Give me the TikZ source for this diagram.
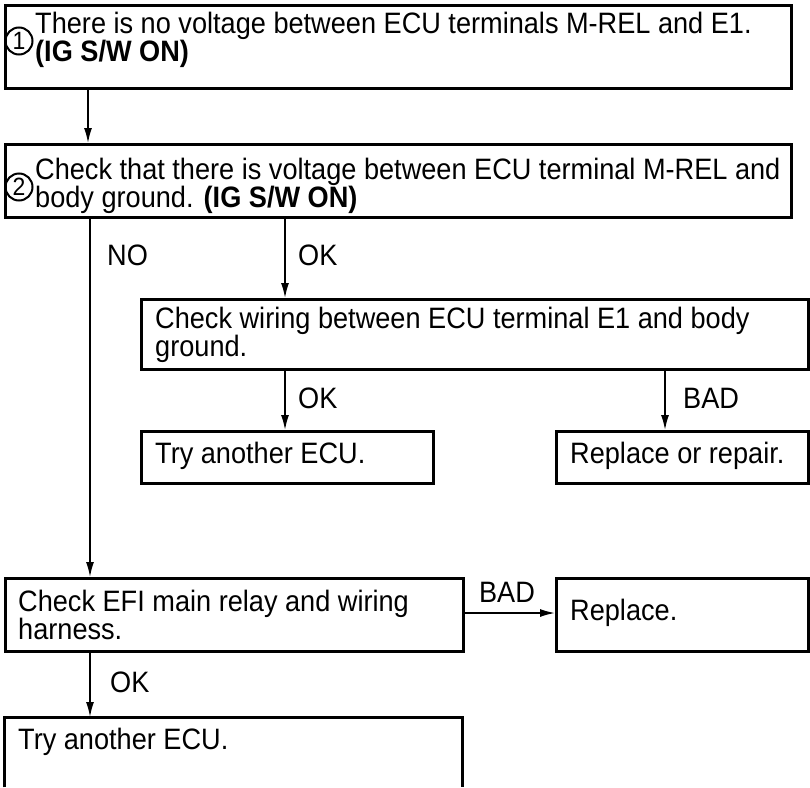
\documentclass[tikz,border=0pt]{standalone}
\usepackage{fontspec}
\setmainfont{Liberation Sans}[FakeStretch=0.92]
\usetikzlibrary{arrows.meta}
\begin{document}
\begin{tikzpicture}[x=1pt,y=-1pt,
  box/.style={draw, line width=3pt, inner sep=0pt, anchor=north west},
  txt/.style={anchor=west, inner sep=0pt, align=left, font=\fontsize{29.5}{27.5}\selectfont},
  lbl/.style={inner sep=0pt, font=\fontsize{29.5}{27.5}\selectfont},
  arr/.style={line width=1.6pt, -{Latex[length=15pt,width=8pt]}},
  num/.style={circle, draw, line width=2pt, inner sep=0pt, minimum size=27pt, font=\fontsize{25}{25}\selectfont}]
\useasboundingbox (0,0) rectangle (810,787);
% boxes
\node[box, minimum width=786pt, minimum height=83pt] (b1) at (4,4) {};
\node[box, minimum width=786pt, minimum height=73pt] (b2) at (4,143) {};
\node[box, minimum width=667pt, minimum height=70pt] (b3) at (140,298) {};
\node[box, minimum width=292pt, minimum height=52pt] (b5) at (140,430) {};
\node[box, minimum width=252pt, minimum height=52pt] (b6) at (555,430) {};
\node[box, minimum width=458pt, minimum height=73pt] (b7) at (4,577) {};
\node[box, minimum width=252pt, minimum height=73pt] (b8) at (555,577) {};
\node[inner sep=0pt, anchor=north west, minimum width=458pt, minimum height=70pt] (b9) at (4,717) {};
\draw[line width=3pt] (b9.south west) -- (b9.north west) -- (b9.north east) -- (b9.south east);
% circled numbers
\node[num] (n1) at (19,41) {1};
\node[num] (n2) at (19,187) {2};
% texts
\node[txt] (t1) at (35,40) {There is no voltage between ECU terminals M-REL and E1.\\\textbf{(IG S/W ON)}};
\node[txt] (t2) at (35,186) {Check that there is voltage between ECU terminal M-REL and\\body ground. \textbf{(IG S/W ON)}};
\node[txt] (t3) at (155,335) {Check wiring between ECU terminal E1 and body\\ground.};
\node[txt] (t5) at (155,456) {Try another ECU.};
\node[txt] (t6) at (570,456) {Replace or repair.};
\node[txt] (t7) at (18,615) {Check EFI main relay and wiring\\harness.};
\node[txt] (t8) at (570,613) {Replace.};
\node[txt] (t9) at (18,742) {Try another ECU.};
% connectors
\draw[arr] (b1.south -| 88,0) -- (b2.north -| 88,0);
\draw[arr] (b2.south -| 90,0) -- (b7.north -| 90,0);
\draw[arr] (b2.south -| 285,0) -- (b3.north -| 285,0);
\draw[arr] (b3.south -| 285,0) -- (b5.north -| 285,0);
\draw[arr] (b3.south -| 665,0) -- (b6.north -| 665,0);
\draw[arr] (b7.east |- 0,613) -- (b8.west |- 0,613);
\draw[arr] (b7.south -| 90,0) -- (b9.north -| 90,0);
% labels
\node[lbl, anchor=west] (lno) at (107,255) {NO};
\node[lbl, anchor=west] (lok1) at (298,255) {OK};
\node[lbl, anchor=west] (lok2) at (298,398) {OK};
\node[lbl, anchor=west] (lbad1) at (683,398) {BAD};
\node[lbl] (lbad2) at (507,592) {BAD};
\node[lbl, anchor=west] (lok3) at (110,682) {OK};
\end{tikzpicture}
\end{document}
